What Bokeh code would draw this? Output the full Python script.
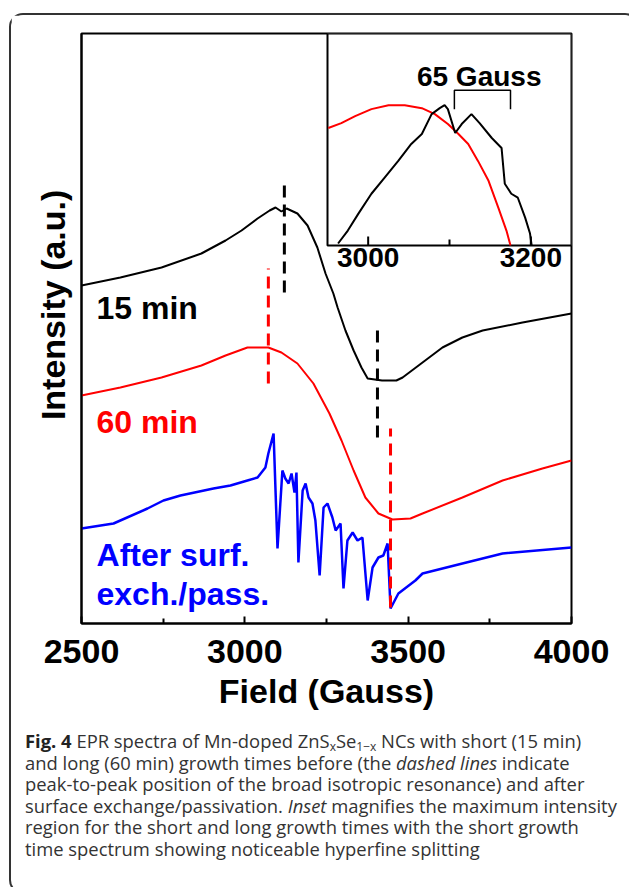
from bokeh.plotting import figure
from bokeh.models import Range1d, Label, Div, FixedTicker
from bokeh.layouts import column
from bokeh.core.properties import value
from bokeh.embed import file_html
from bokeh.resources import INLINE

# ---------------- data ----------------
# main panel: field in Gauss, intensity in arbitrary units (offset traces)
field_15 = [2500, 2619, 2745, 2867, 2941, 2990, 3039, 3076, 3094, 3112, 3128, 3161, 3192, 3222, 3247,
            3271, 3284, 3308, 3333, 3357, 3376, 3420, 3464, 3483, 3544, 3605, 3666, 3728, 3850, 4000]
int_15 = [338, 346, 356, 370, 383, 393, 405, 413, 416, 412, 415, 410, 398, 376, 350,
          330, 316, 293, 273, 256, 245, 243, 243, 246, 261, 276, 286, 293, 301, 310]

field_60 = [2500, 2619, 2745, 2867, 2941, 3008, 3072, 3112, 3161, 3210, 3259, 3296, 3333,
            3369, 3409, 3452, 3507, 3544, 3666, 3789, 3911, 4000]
int_60 = [228, 236, 246, 258, 268, 276, 276, 271, 260, 240, 210, 183, 153,
          126, 110, 104, 105, 110, 126, 143, 155, 163]

field_pass = [2500, 2598, 2702, 2751, 2803, 2904, 2956, 3008, 3039, 3063, 3072, 3088, 3100,
              3115, 3124, 3134, 3143, 3152, 3158, 3164, 3177, 3186, 3195, 3207, 3216, 3229,
              3241, 3253, 3268, 3278, 3293, 3302, 3314, 3330, 3345, 3360, 3376, 3391, 3409,
              3424, 3437, 3446, 3470, 3522, 3544, 3666, 3789, 4000]
int_pass = [95, 100, 115, 123, 128, 135, 138, 143, 146, 156, 170, 190, 75,
            153, 145, 140, 150, 131, 151, 61, 133, 140, 126, 120, 103, 48,
            116, 120, 106, 93, 100, 35, 83, 91, 83, 86, 23, 56, 66,
            68, 80, 15, 30, 43, 50, 60, 70, 76]

# peak-to-peak markers (dashed lines)
dash_black_x = [3121, 3406]
dash_black_y0 = [331, 186]
dash_black_y1 = [445, 300]
dash_red_x = [3072, 3446]
dash_red_y0 = [240, 16]
dash_red_y1 = [355, 195]

# inset: field in Gauss, intensity in arbitrary units
inset_field_15 = [2963, 2975, 2988, 3004, 3020, 3037, 3053, 3066, 3078, 3088, 3094, 3098, 3107,
                  3115, 3127, 3137, 3152, 3164, 3168, 3176, 3184, 3193, 3199, 3201]
inset_int_15 = [2, 15, 32, 52, 68, 85, 102, 112, 132, 138, 141, 137, 113,
                122, 132, 123, 108, 98, 62, 52, 48, 28, 12, 0]
inset_field_60 = [2951, 2967, 2984, 3004, 3025, 3045, 3066, 3082, 3098, 3111, 3123, 3135,
                  3148, 3160, 3170, 3175]
inset_int_60 = [118, 123, 130, 137, 141, 141, 138, 132, 122, 112, 102, 85, 65, 38, 15, 0]
bracket_x = [3106, 3106, 3175, 3175]
bracket_y = [137, 156, 156, 137]
bracket_label = "65 Gauss"

main_ticks = [2500, 3000, 3500, 4000]
main_minor = [2750, 3250, 3750]
inset_ticks = [3000, 3200]
inset_tick_labels = ["3000", "3200"]
inset_minor = [3100]

# ---------------- figure ----------------
FONT = "Liberation Sans"
p = figure(width=616, height=713, x_range=Range1d(2500, 4000), y_range=Range1d(0, 590),
           output_backend="svg", toolbar_location=None,
           min_border_left=70, min_border_right=56, min_border_top=18, min_border_bottom=105)
p.grid.visible = False
p.outline_line_color = "black"
p.outline_line_width = 2
p.background_fill_color = "white"
p.border_fill_color = "white"

ax = p.xaxis[0]
ax.ticker = FixedTicker(ticks=main_ticks, minor_ticks=main_minor)
ax.axis_line_width = 2
ax.major_tick_in = 7
ax.major_tick_out = 0
ax.minor_tick_in = 5
ax.minor_tick_out = 0
ax.major_tick_line_width = 2
ax.minor_tick_line_width = 2
ax.major_label_text_font = FONT
ax.major_label_text_font_style = "bold"
ax.major_label_text_font_size = "34px"
ax.major_label_text_color = "black"
ax.major_label_standoff = 16
ax.axis_label = "Field (Gauss)"
ax.axis_label_text_font = FONT
ax.axis_label_text_font_style = "bold"
ax.axis_label_text_font_size = "34px"
ax.axis_label_text_color = "black"
ax.axis_label_standoff = 6

ay = p.yaxis[0]
ay.ticker = FixedTicker(ticks=[], minor_ticks=[])
ay.axis_line_width = 2
ay.major_tick_line_color = None
ay.minor_tick_line_color = None
ay.major_label_text_font_size = "0px"
ay.major_label_standoff = 0
ay.axis_label = "\u00a0\u00a0\u00a0\u00a0\u00a0Intensity (a.u.)"
ay.axis_label_text_font = FONT
ay.axis_label_text_font_style = "bold"
ay.axis_label_text_font_size = "34px"
ay.axis_label_text_color = "black"
ay.axis_label_standoff = 10

# main traces
p.line(field_15, int_15, line_color="black", line_width=2)
p.line(field_60, int_60, line_color="#ff0000", line_width=2)
p.line(field_pass, int_pass, line_color="#0000ff", line_width=2.5)

p.segment(x0=dash_black_x, x1=dash_black_x, y0=dash_black_y0, y1=dash_black_y1,
          line_color="black", line_width=3, line_dash="12 7")
p.segment(x0=dash_red_x, x1=dash_red_x, y0=dash_red_y0, y1=dash_red_y1,
          line_color="#ff0000", line_width=3, line_dash="12 7")

def lab(x, y, t, color, size="32px", **kw):
    p.add_layout(Label(x=x, y=y, text=t, text_color=color, text_font=FONT,
                       text_font_style="bold", text_font_size=size,
                       text_baseline="bottom", **kw))

lab(2546, 298, "15 min", "black")
lab(2546, 184, "60 min", "#ff0000")
lab(2546, 51, "After surf.", "#0000ff")
lab(2546, 12, "exch./pass.", "#0000ff")

# ---------------- inset (drawn with its own ranges) ----------------
ix0, ix1 = 2950, 3250
iy0, iy1 = 0, 213
fx = (327 - 81) / 490.0      # inset left edge as fraction of frame width
fy = (623 - 245) / 590.0     # inset bottom edge as fraction of frame height
sx = (ix1 - ix0) / (1 - fx)
sy = (iy1 - iy0) / (1 - fy)
p.extra_x_ranges = {"ix": Range1d(ix0 - fx * sx, ix1)}
p.extra_y_ranges = {"iy": Range1d(iy0 - fy * sy, iy1)}
kw = dict(x_range_name="ix", y_range_name="iy")

p.quad(left=[ix0], right=[ix1], bottom=[iy0], top=[iy1], fill_color="white",
       line_color="black", line_width=2, **kw)
p.segment(x0=inset_ticks, x1=inset_ticks, y0=[iy0] * 2, y1=[iy0 + 9] * 2,
          line_color="black", line_width=2, **kw)
p.segment(x0=inset_minor, x1=inset_minor, y0=[iy0], y1=[iy0 + 6],
          line_color="black", line_width=2, **kw)
p.text(x=inset_ticks, y=[iy0] * 2, text=inset_tick_labels, text_align="center",
       text_baseline="top", y_offset=2, text_font=value(FONT), text_font_style="bold",
       text_font_size="28px", text_color="black", **kw)

p.line(inset_field_60, inset_int_60, line_color="#ff0000", line_width=2, **kw)
p.line(inset_field_15, inset_int_15, line_color="black", line_width=2, **kw)
p.line(bracket_x, bracket_y, line_color="black", line_width=1.5, **kw)
p.text(x=[(bracket_x[0] + bracket_x[-1]) / 2 - 4], y=[170], text=[bracket_label],
       text_align="center", text_baseline="alphabetic", text_font=value(FONT),
       text_font_style="bold", text_font_size="28px", text_color="black", **kw)

# ---------------- caption ----------------
sub = '<sub style="font-size:12px; line-height:0; vertical-align:-3px;">'
cap_html = (
    '<div style="font-family:\'Open Sans\'; font-size:18.4px; line-height:21.6px; color:#333;'
    ' padding-left:9px; margin-top:-3px; white-space:nowrap;">'
    '<b style="color:#222">Fig. 4</b> EPR spectra of Mn-doped ZnS' + sub + 'x</sub>'
    'Se' + sub + '1\u2212x</sub> NCs with short (15 min)<br>'
    'and long (60 min) growth times before (the <i>dashed lines</i> indicate<br>'
    'peak-to-peak position of the broad isotropic resonance) and after<br>'
    'surface exchange/passivation. <i>Inset</i> magnifies the maximum intensity<br>'
    'region for the short and long growth times with the short growth<br>'
    'time spectrum showing noticeable hyperfine splitting</div>'
)
cap = Div(text=cap_html, width=616, height=154)

layout = column(p, cap, styles={"border": "2px solid #333", "border-radius": "14px",
                                "margin": "13px 0px 0px 9px",
                                "background-color": "white"})

open("out.html", "w").write(file_html(layout, INLINE))
